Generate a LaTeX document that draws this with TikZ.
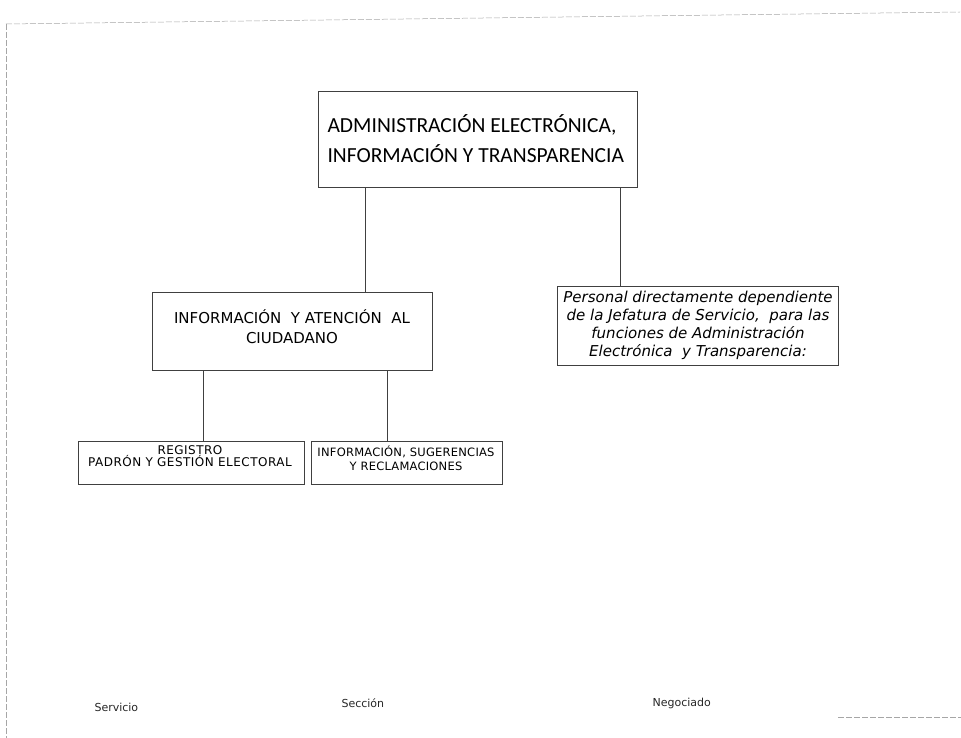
\documentclass[tikz,border=0pt]{standalone}
\usepackage{fontspec}
\setmainfont{Carlito}
\newfontfamily\wide{DejaVu Sans}
\begin{document}
\begin{tikzpicture}[x=1pt,y=-1pt,
  box/.style={draw=black!75,line width=0.9pt,rectangle,inner sep=0pt,anchor=north west},
  conn/.style={draw=black!75,line width=0.9pt},
  frame/.style={draw=black!35,line width=0.5pt,dash pattern=on 6pt off 2pt},
  legend/.style={font=\wide\fontsize{11}{12}\selectfont,text=black!85,anchor=west}]
\useasboundingbox (0,0) rectangle (961,738);
% frame
\draw[frame] (6,24) -- (960,12);
\draw[frame] (6,24) -- (6,738);
\draw[frame] (838,717) -- (961,717);
% boxes
\node[box,minimum width=319,minimum height=96] (top) at (318,91) {};
\node[font=\fontsize{21.5}{30}\selectfont,align=left,anchor=west] (toptext) at (324,139) {ADMINISTRACIÓN ELECTRÓNICA,\\INFORMACIÓN Y TRANSPARENCIA};
\node[box,minimum width=280,minimum height=78] (mid) at (152,292) {};
\node[font=\wide\fontsize{15}{20}\selectfont,align=center] (midtext) at (292,327) {INFORMACIÓN\ \ Y ATENCIÓN\ \ AL\\CIUDADANO};
\node[box,minimum width=281,minimum height=79] (pers) at (557,286) {};
\node[font=\wide\itshape\fontsize{15}{18}\selectfont,align=center] (perstext) at (698,325) {Personal directamente dependiente\\de la Jefatura de Servicio,\ \ para las\\funciones de Administración\\Electrónica\ \ y Transparencia:};
\node[box,minimum width=226,minimum height=43] (reg) at (78,441) {};
\node[font=\wide\fontsize{12}{10.5}\selectfont\addfontfeature{LetterSpace=4},align=center] (regtext) at (190,456) {REGISTRO\\PADRÓN Y GESTIÓN ELECTORAL};
\node[box,minimum width=191,minimum height=43] (info) at (311,441) {};
\node[font=\wide\fontsize{11.5}{14}\selectfont\addfontfeature{LetterSpace=2},align=center] (infotext) at (406,458) {INFORMACIÓN, SUGERENCIAS\\Y RECLAMACIONES};
% connectors
\draw[conn] (top.south west) ++(47,0) coordinate (t1) -- (t1 |- mid.north);
\draw[conn] (top.south west) ++(302,0) coordinate (t2) -- (t2 |- pers.north);
\draw[conn] (mid.south west) ++(51,0) coordinate (m1) -- (m1 |- reg.north);
\draw[conn] (mid.south west) ++(235,0) coordinate (m2) -- (m2 |- info.north);
% legend
\node[legend] (serv) at (91,707) {Servicio};
\node[legend] (secc) at (338,703) {Sección};
\node[legend] (neg) at (649,703) {Negociado};
\end{tikzpicture}
\end{document}
